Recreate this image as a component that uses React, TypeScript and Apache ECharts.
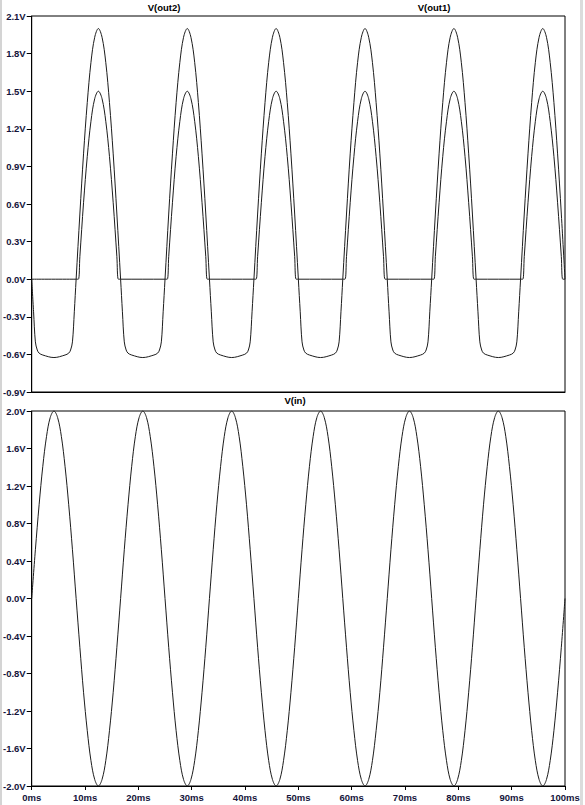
import React, { useEffect, useRef } from 'react';
import * as echarts from 'echarts';

// Time base for V(in), ms
const vinTime = [
  0, 0.69, 1.39, 2.08, 2.78, 3.47, 4.17, 4.86, 5.56, 6.25, 6.94, 7.64, 8.33, 9.03, 9.72, 10.42, 11.11, 11.81, 12.5, 13.19, 13.89, 14.58, 15.28, 15.97,
  16.67, 17.36, 18.06, 18.75, 19.44, 20.14, 20.83, 21.53, 22.22, 22.92, 23.61, 24.31, 25.0, 25.69, 26.39, 27.08, 27.78, 28.47, 29.17, 29.86, 30.56, 31.25, 31.94, 32.64,
  33.33, 34.03, 34.72, 35.42, 36.11, 36.81, 37.5, 38.19, 38.89, 39.58, 40.28, 40.97, 41.67, 42.36, 43.06, 43.75, 44.44, 45.14, 45.83, 46.53, 47.22, 47.92, 48.61, 49.31,
  50.0, 50.69, 51.39, 52.08, 52.78, 53.47, 54.17, 54.86, 55.56, 56.25, 56.94, 57.64, 58.33, 59.03, 59.72, 60.42, 61.11, 61.81, 62.5, 63.19, 63.89, 64.58, 65.28, 65.97,
  66.67, 67.36, 68.06, 68.75, 69.44, 70.14, 70.83, 71.53, 72.22, 72.92, 73.61, 74.31, 75.0, 75.69, 76.39, 77.08, 77.78, 78.47, 79.17, 79.86, 80.56, 81.25, 81.94, 82.64,
  83.33, 84.03, 84.72, 85.42, 86.11, 86.81, 87.5, 88.19, 88.89, 89.58, 90.28, 90.97, 91.67, 92.36, 93.06, 93.75, 94.44, 95.14, 95.83, 96.53, 97.22, 97.92, 98.61, 99.31,
  100.0,
];

const vinValues = [
  0, 0.52, 1, 1.41, 1.73, 1.93, 2, 1.93, 1.73, 1.41, 1, 0.52, 0, -0.52, -1, -1.41, -1.73, -1.93, -2, -1.93, -1.73, -1.41, -1, -0.52,
  0, 0.52, 1, 1.41, 1.73, 1.93, 2, 1.93, 1.73, 1.41, 1, 0.52, 0, -0.52, -1, -1.41, -1.73, -1.93, -2, -1.93, -1.73, -1.41, -1, -0.52,
  0, 0.52, 1, 1.41, 1.73, 1.93, 2, 1.93, 1.73, 1.41, 1, 0.52, 0, -0.52, -1, -1.41, -1.73, -1.93, -2, -1.93, -1.73, -1.41, -1, -0.52,
  0, 0.52, 1, 1.41, 1.73, 1.93, 2, 1.93, 1.73, 1.41, 1, 0.52, 0, -0.52, -1, -1.41, -1.73, -1.93, -2, -1.93, -1.73, -1.41, -1, -0.52,
  0, 0.52, 1, 1.41, 1.73, 1.93, 2, 1.93, 1.73, 1.41, 1, 0.52, 0, -0.52, -1, -1.41, -1.73, -1.93, -2, -1.93, -1.73, -1.41, -1, -0.52,
  0, 0.52, 1, 1.41, 1.73, 1.93, 2, 1.93, 1.73, 1.41, 1, 0.52, 0, -0.52, -1, -1.41, -1.73, -1.93, -2, -1.93, -1.73, -1.41, -1, -0.52,
  0,
];

// V(out2): time (ms) and value (V)
const out2Time = [
  0, 0.35, 0.69, 1.04, 1.39, 2.08, 4.17, 6.25, 6.94, 7.29, 7.64, 7.99, 8.33, 9.03, 9.72, 10.42, 11.11, 11.81, 12.5, 13.19, 13.89, 14.58, 15.28, 15.97,
  16.67, 17.01, 17.36, 17.71, 18.06, 18.75, 20.83, 22.92, 23.61, 23.96, 24.31, 24.65, 25.0, 25.69, 26.39, 27.08, 27.78, 28.47, 29.17, 29.86, 30.56, 31.25, 31.94, 32.64,
  33.33, 33.68, 34.03, 34.38, 34.72, 35.42, 37.5, 39.58, 40.28, 40.63, 40.97, 41.32, 41.67, 42.36, 43.06, 43.75, 44.44, 45.14, 45.83, 46.53, 47.22, 47.92, 48.61, 49.31,
  50.0, 50.35, 50.69, 51.04, 51.39, 52.08, 54.17, 56.25, 56.94, 57.29, 57.64, 57.99, 58.33, 59.03, 59.72, 60.42, 61.11, 61.81, 62.5, 63.19, 63.89, 64.58, 65.28, 65.97,
  66.67, 67.01, 67.36, 67.71, 68.06, 68.75, 70.83, 72.92, 73.61, 73.96, 74.31, 74.65, 75.0, 75.69, 76.39, 77.08, 77.78, 78.47, 79.17, 79.86, 80.56, 81.25, 81.94, 82.64,
  83.33, 83.68, 84.03, 84.38, 84.72, 85.42, 87.5, 89.58, 90.28, 90.63, 90.97, 91.32, 91.67, 92.36, 93.06, 93.75, 94.44, 95.14, 95.83, 96.53, 97.22, 97.92, 98.61, 99.31,
  100.0,
];

const out2Values = [
  0, -0.26, -0.5, -0.565, -0.59, -0.605, -0.625, -0.605, -0.59, -0.565, -0.5, -0.26, 0, 0.52, 1, 1.41, 1.73, 1.93, 2, 1.93, 1.73, 1.41, 1, 0.52,
  0, -0.26, -0.5, -0.565, -0.59, -0.605, -0.625, -0.605, -0.59, -0.565, -0.5, -0.26, 0, 0.52, 1, 1.41, 1.73, 1.93, 2, 1.93, 1.73, 1.41, 1, 0.52,
  0, -0.26, -0.5, -0.565, -0.59, -0.605, -0.625, -0.605, -0.59, -0.565, -0.5, -0.26, 0, 0.52, 1, 1.41, 1.73, 1.93, 2, 1.93, 1.73, 1.41, 1, 0.52,
  0, -0.26, -0.5, -0.565, -0.59, -0.605, -0.625, -0.605, -0.59, -0.565, -0.5, -0.26, 0, 0.52, 1, 1.41, 1.73, 1.93, 2, 1.93, 1.73, 1.41, 1, 0.52,
  0, -0.26, -0.5, -0.565, -0.59, -0.605, -0.625, -0.605, -0.59, -0.565, -0.5, -0.26, 0, 0.52, 1, 1.41, 1.73, 1.93, 2, 1.93, 1.73, 1.41, 1, 0.52,
  0, -0.26, -0.5, -0.565, -0.59, -0.605, -0.625, -0.605, -0.59, -0.565, -0.5, -0.26, 0, 0.52, 1, 1.41, 1.73, 1.93, 2, 1.93, 1.73, 1.41, 1, 0.52,
  0,
];

// V(out1): time (ms) and value (V)
const out1Time = [
  0, 8.33, 8.75, 9.03, 9.72, 10.42, 11.11, 11.81, 12.5, 13.19, 13.89, 14.58, 15.28, 15.97, 16.25,
  16.67, 25.0, 25.42, 25.69, 26.39, 27.08, 27.78, 28.47, 29.17, 29.86, 30.56, 31.25, 31.94, 32.64, 32.92,
  33.33, 41.67, 42.08, 42.36, 43.06, 43.75, 44.44, 45.14, 45.83, 46.53, 47.22, 47.92, 48.61, 49.31, 49.58,
  50.0, 58.33, 58.75, 59.03, 59.72, 60.42, 61.11, 61.81, 62.5, 63.19, 63.89, 64.58, 65.28, 65.97, 66.25,
  66.67, 75.0, 75.42, 75.69, 76.39, 77.08, 77.78, 78.47, 79.17, 79.86, 80.56, 81.25, 81.94, 82.64, 82.92,
  83.33, 91.67, 92.08, 92.36, 93.06, 93.75, 94.44, 95.14, 95.83, 96.53, 97.22, 97.92, 98.61, 99.31, 99.58,
  100.0,
];

const out1Values = [
  0, 0, 0, 0.18, 0.61, 0.98, 1.26, 1.44, 1.5, 1.44, 1.26, 0.98, 0.61, 0.18, 0,
  0, 0, 0, 0.18, 0.61, 0.98, 1.26, 1.44, 1.5, 1.44, 1.26, 0.98, 0.61, 0.18, 0,
  0, 0, 0, 0.18, 0.61, 0.98, 1.26, 1.44, 1.5, 1.44, 1.26, 0.98, 0.61, 0.18, 0,
  0, 0, 0, 0.18, 0.61, 0.98, 1.26, 1.44, 1.5, 1.44, 1.26, 0.98, 0.61, 0.18, 0,
  0, 0, 0, 0.18, 0.61, 0.98, 1.26, 1.44, 1.5, 1.44, 1.26, 0.98, 0.61, 0.18, 0,
  0, 0, 0, 0.18, 0.61, 0.98, 1.26, 1.44, 1.5, 1.44, 1.26, 0.98, 0.61, 0.18, 0,
  0,
];

const traceNames = ['V(out2)', 'V(out1)', 'V(in)'];
const topRange = [-0.9, 2.1, 0.3]; // min, max, interval
const bottomRange = [-2.0, 2.0, 0.4];
const timeRange = [0, 100, 10];

export default function App() {
  const ref = useRef<HTMLDivElement>(null);

  useEffect(() => {
    if (!ref.current) return;
    const chart = echarts.init(ref.current, null, { renderer: 'svg' });
    const fontFamily = '"Liberation Sans", Arial, sans-serif';
    const tickLabel = {
      color: '#14143a',
      fontSize: 9.5,
      fontWeight: 'bold' as const,
      fontFamily,
    };
    const zip = (t: number[], v: number[]) => t.map((x, i) => [x, v[i]]);
    const vFmt = (v: number) => (Math.abs(v) < 1e-9 ? 0 : v).toFixed(1) + 'V';
    const traceLine = { color: '#1c1c1c', width: 1 };

    const yAxisCommon = (range: number[], gridIndex: number) => ({
      type: 'value',
      gridIndex,
      min: range[0],
      max: range[1],
      interval: range[2],
      axisLine: { show: true, onZero: false, lineStyle: { color: '#000', width: 1 } },
      axisTick: { show: true, length: 5, inside: false, lineStyle: { color: '#000', width: 1 } },
      axisLabel: { ...tickLabel, margin: 6, formatter: vFmt },
      splitLine: { show: false },
    });

    chart.setOption({
      animation: false,
      backgroundColor: '#ffffff',
      grid: [
        { left: 31, top: 16, width: 534, height: 376, show: true, borderColor: '#000', borderWidth: 1, backgroundColor: 'transparent' },
        { left: 31, top: 411, width: 534, height: 375, show: true, borderColor: '#000', borderWidth: 1, backgroundColor: 'transparent' },
      ],
      xAxis: [
        {
          type: 'value',
          gridIndex: 0,
          min: timeRange[0],
          max: timeRange[1],
          interval: timeRange[2],
          axisLine: { show: true, onZero: false, lineStyle: { color: '#000', width: 1 } },
          axisTick: { show: false },
          axisLabel: { show: false },
          splitLine: { show: false },
        },
        {
          type: 'value',
          gridIndex: 1,
          min: timeRange[0],
          max: timeRange[1],
          interval: timeRange[2],
          axisLine: { show: true, onZero: false, lineStyle: { color: '#000', width: 1 } },
          axisTick: { show: true, length: 4, lineStyle: { color: '#000', width: 1 } },
          axisLabel: { ...tickLabel, margin: 6, formatter: (v: number) => v + 'ms' },
          splitLine: { show: false },
        },
      ],
      yAxis: [yAxisCommon(topRange, 0), yAxisCommon(bottomRange, 1)],
      series: [
        {
          name: traceNames[0],
          type: 'line',
          xAxisIndex: 0,
          yAxisIndex: 0,
          data: zip(out2Time, out2Values),
          showSymbol: false,
          symbol: 'none',
          smooth: 0.35,
          lineStyle: traceLine,
        },
        {
          name: traceNames[1],
          type: 'line',
          xAxisIndex: 0,
          yAxisIndex: 0,
          data: zip(out1Time, out1Values),
          showSymbol: false,
          symbol: 'none',
          smooth: 0.35,
          lineStyle: traceLine,
        },
        {
          name: traceNames[2],
          type: 'line',
          xAxisIndex: 1,
          yAxisIndex: 1,
          data: zip(vinTime, vinValues),
          showSymbol: false,
          symbol: 'none',
          smooth: 0.35,
          lineStyle: traceLine,
        },
      ],
      graphic: [
        { type: 'rect', shape: { x: 0, y: 0, width: 2, height: 805 }, style: { fill: '#d4d4d4' }, silent: true },
        { type: 'rect', shape: { x: 580, y: 0, width: 3, height: 805 }, style: { fill: '#dcdcdc' }, silent: true },
        {
          type: 'text',
          x: 164,
          y: 7,
          style: { text: traceNames[0], align: 'center', verticalAlign: 'middle', fontSize: 9.5, fontWeight: 'bold', fontFamily, fill: '#000' },
        },
        {
          type: 'text',
          x: 434,
          y: 7,
          style: { text: traceNames[1], align: 'center', verticalAlign: 'middle', fontSize: 9.5, fontWeight: 'bold', fontFamily, fill: '#000' },
        },
        {
          type: 'text',
          x: 295,
          y: 400,
          style: { text: traceNames[2], align: 'center', verticalAlign: 'middle', fontSize: 9.5, fontWeight: 'bold', fontFamily, fill: '#000' },
        },
      ],
    });

    return () => chart.dispose();
  }, []);

  return <div ref={ref} style={{ position: 'fixed', left: 0, top: 0, width: 585, height: 805 }} />;
}
